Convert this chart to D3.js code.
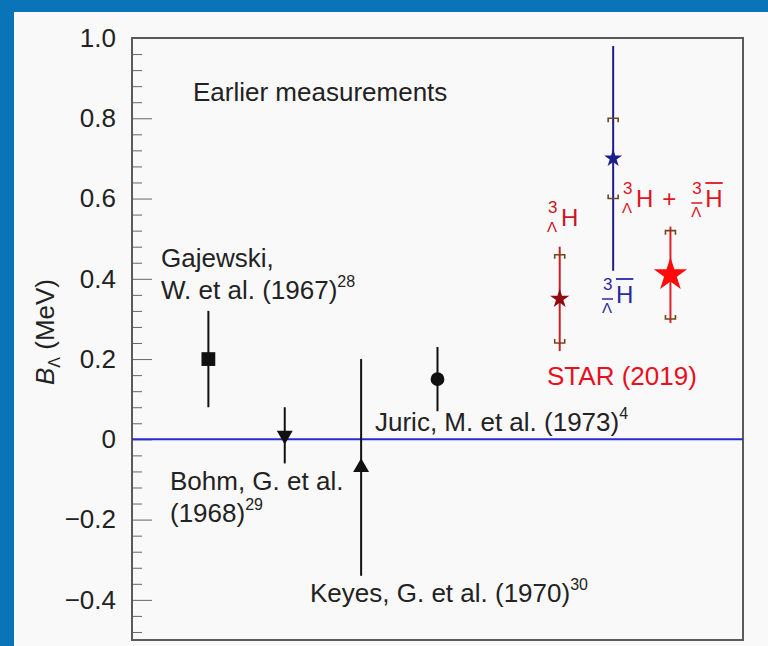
<!DOCTYPE html>
<html>
<head>
<meta charset="utf-8">
<script src="https://cdn.jsdelivr.net/npm/d3@7"></script>
<style>
  html, body { margin: 0; padding: 0; background: #0a74b9; }
  svg { display: block; font-family: "Liberation Sans", Arial, sans-serif; }
</style>
</head>
<body>
<div id="chart"></div>
<script>
// earlier measurements
const earlierNames = ['Gajewski', 'Bohm', 'Keyes', 'Juric'];
const earlierX = [1, 2, 3, 4];
const earlierValues = [0.20, 0.01, -0.07, 0.15];
const earlierErrors = [0.12, 0.07, 0.27, 0.08];
const earlierSymbols = ['square', 'triangleDown', 'triangle', 'circle'];

// STAR (2019): hypertriton, antihypertriton, combined
const starNames = ['hypertriton', 'antihypertriton', 'combined'];
const starX = [5.6, 6.3, 7.05];
const starValues = [0.35, 0.70, 0.41];
const starStat = [0.13, 0.28, 0.12];
const starSyst = [0.11, 0.10, 0.11];

const yTickValues = [-0.4, -0.2, 0, 0.2, 0.4, 0.6, 0.8, 1.0];
const yTickLabels = ['\u22120.4', '\u22120.2', '0', '0.2', '0.4', '0.6', '0.8', '1.0'];
const yMinorValues = d3.range(-48, 101, 4).map(d => d / 100).filter(d => !yTickValues.some(t => Math.abs(t - d) < 1e-6));

const W = 768, H = 646;
const margin = { top: 38, right: 25, bottom: 6, left: 132 };

const svg = d3.select('#chart').append('svg')
  .attr('width', W)
  .attr('height', H);

svg.append('rect').attr('width', W).attr('height', H).attr('fill', '#0a74b9');
svg.append('rect').attr('x', 14).attr('y', 12).attr('width', W - 14).attr('height', H - 12).attr('fill', '#f9f9f9');

const x = d3.scaleLinear().domain([0, 8]).range([margin.left, W - margin.right]);
const y = d3.scaleLinear().domain([-0.5, 1.0]).range([H - margin.bottom, margin.top]);

const fs = 26;

// minor ticks
svg.append('g')
  .attr('transform', `translate(${margin.left},0)`)
  .call(d3.axisLeft(y).tickValues(yMinorValues).tickSize(-10).tickFormat(''))
  .call(g => g.select('.domain').remove())
  .call(g => g.selectAll('line').attr('stroke', '#666'));

// major ticks
svg.append('g')
  .attr('transform', `translate(${margin.left},0)`)
  .call(d3.axisLeft(y).tickValues(yTickValues).tickSize(-20).tickPadding(16)
    .tickFormat((d, i) => yTickLabels[i]))
  .call(g => g.select('.domain').remove())
  .call(g => g.selectAll('line').attr('stroke', '#666'))
  .call(g => g.selectAll('text')
    .attr('font-size', fs)
    .attr('font-family', '"Liberation Sans", Arial, sans-serif')
    .attr('fill', '#222'));

// frame
svg.append('rect')
  .attr('x', x.range()[0])
  .attr('y', y.range()[1])
  .attr('width', x.range()[1] - x.range()[0])
  .attr('height', y.range()[0] - y.range()[1])
  .attr('fill', 'none')
  .attr('stroke', '#5a5a5a')
  .attr('stroke-width', 2);

// zero line
svg.append('line')
  .attr('x1', x.range()[0]).attr('x2', x.range()[1])
  .attr('y1', y(0)).attr('y2', y(0))
  .attr('stroke', '#2a2ad0')
  .attr('stroke-width', 2);

// y label
const yl = svg.append('text')
  .attr('transform', `translate(54,${332}) rotate(-90)`)
  .attr('text-anchor', 'middle')
  .attr('font-size', fs)
  .attr('fill', '#222');
yl.append('tspan').attr('font-style', 'italic').text('B');
yl.append('tspan').attr('font-size', 16).attr('dy', 6).text('\u039B');
yl.append('tspan').attr('dy', -6).text(' (MeV)');

// earlier measurement points
const earlier = earlierX.map((d, i) => ({ x: d, v: earlierValues[i], e: earlierErrors[i], s: earlierSymbols[i] }));

svg.selectAll('.early-err')
  .data(earlier)
  .join('line')
  .attr('class', 'early-err')
  .attr('x1', d => x(d.x)).attr('x2', d => x(d.x))
  .attr('y1', d => y(d.v + d.e)).attr('y2', d => y(d.v - d.e))
  .attr('stroke', '#111')
  .attr('stroke-width', 2);

const symbolMap = {
  square: [d3.symbolSquare, 190, 0],
  circle: [d3.symbolCircle, 150, 0],
  triangle: [d3.symbolTriangle, 110, 0],
  triangleDown: [d3.symbolTriangle, 110, 180]
};

svg.selectAll('.early-pt')
  .data(earlier)
  .join('path')
  .attr('class', 'early-pt')
  .attr('d', d => d3.symbol(symbolMap[d.s][0], symbolMap[d.s][1])())
  .attr('transform', d => `translate(${x(d.x)},${y(d.v)}) rotate(${symbolMap[d.s][2]})`)
  .attr('fill', '#111');

// STAR points
const starBar = ['#c81e2a', '#1c1c8c', '#e0202a'];
const starFill = ['#8e0a10', '#1c1c8c', '#ff0a0a'];
const starSize = [115, 100, 345];
const star = starX.map((d, i) => ({ x: d, v: starValues[i], st: starStat[i], sy: starSyst[i], i }));

svg.selectAll('.star-err')
  .data(star)
  .join('line')
  .attr('class', 'star-err')
  .attr('x1', d => x(d.x)).attr('x2', d => x(d.x))
  .attr('y1', d => y(d.v + d.st)).attr('y2', d => y(d.v - d.st))
  .attr('stroke', d => starBar[d.i])
  .attr('stroke-width', 2);

// systematic brackets
const bw = 5, bh = 4;
star.forEach(d => {
  const cx = x(d.x);
  const yt = y(d.v + d.sy), yb = y(d.v - d.sy);
  svg.append('path')
    .attr('d', `M${cx - bw},${yt + bh}V${yt}H${cx + bw}V${yt + bh}M${cx - bw},${yb - bh}V${yb}H${cx + bw}V${yb - bh}`)
    .attr('fill', 'none')
    .attr('stroke', '#6b4a1e')
    .attr('stroke-width', 1.6);
});

svg.selectAll('.star-pt')
  .data(star)
  .join('path')
  .attr('class', 'star-pt')
  .attr('d', d => d3.symbol(d3.symbolStar, starSize[d.i])())
  .attr('transform', d => `translate(${x(d.x)},${y(d.v)})`)
  .attr('fill', d => starFill[d.i]);

// text labels
function label(xp, yp, lines, color) {
  const t = svg.append('text')
    .attr('x', xp).attr('y', yp)
    .attr('font-size', fs)
    .attr('fill', color || '#222');
  lines.forEach((ln, k) => {
    t.append('tspan').attr('x', xp).attr('dy', k === 0 ? 0 : 32).text(ln[0]);
    if (ln[1]) {
      t.append('tspan').attr('font-size', 16).attr('dy', -12).text(ln[1]);
      t.append('tspan').attr('font-size', 16).attr('dy', 12).text('');
    }
  });
}

label(193, 101, [['Earlier measurements']]);
label(161, 267, [['Gajewski,'], ['W. et al. (1967)', '28']]);
label(375, 431, [['Juric, M. et al. (1973)', '4']]);
label(170, 490, [['Bohm, G. et al.'], ['(1968)', '29']]);
label(310, 602, [['Keyes, G. et al. (1970)', '30']]);
label(547, 385, [['STAR (2019)']], '#e8101e');

// nuclide notation: superscript 3, subscript Lambda, H
function nuclide(xp, yp, anti, color) {
  const g = svg.append('g').attr('fill', color).attr('stroke', color);
  g.append('text').attr('x', xp + 1).attr('y', yp - 13).attr('font-size', 17).attr('stroke', 'none').text('3');
  g.append('text').attr('x', xp).attr('y', yp + (anti ? 10 : 6)).attr('font-size', 15).attr('stroke', 'none').text('\u039B');
  const h = g.append('text').attr('x', xp + 14).attr('y', yp).attr('font-size', 24).attr('stroke', 'none').text('H');
  const hw = h.node().getComputedTextLength();
  if (anti) {
    g.append('line').attr('x1', xp + 14).attr('x2', xp + 14 + hw).attr('y1', yp - 24).attr('y2', yp - 24).attr('stroke-width', 1.8);
    g.append('line').attr('x1', xp).attr('x2', xp + 11).attr('y1', yp - 4).attr('y2', yp - 4).attr('stroke-width', 1.5);
  }
  return xp + 14 + hw;
}

nuclide(547, 226, false, '#c8141e');
nuclide(602, 303, true, '#2a2aa0');
const endH = nuclide(622, 207, false, '#e0141e');
svg.append('text').attr('x', endH + 9).attr('y', 207).attr('font-size', 24).attr('fill', '#e0141e').text('+');
nuclide(endH + 38, 207, true, '#e0141e');
</script>
</body>
</html>
